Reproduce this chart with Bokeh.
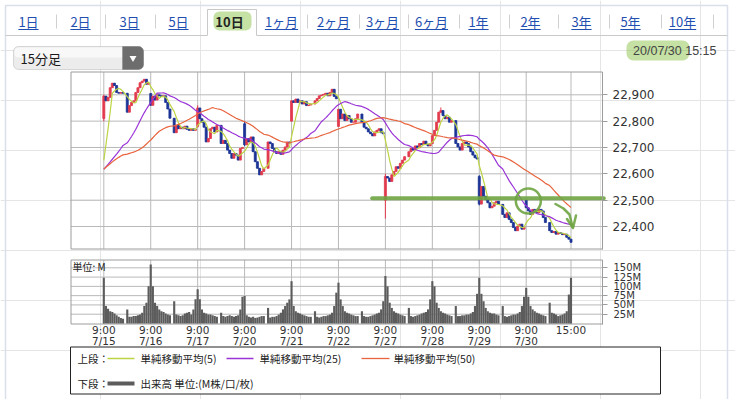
import pandas as pd
from bokeh.plotting import figure
from bokeh.models import (Range1d, LinearAxis, FixedTicker, NumeralTickFormatter,
                          PrintfTickFormatter, BoxAnnotation, ColumnDataSource)
from bokeh.core.properties import value
from bokeh.embed import file_html
from bokeh.resources import INLINE

# ------------------------------------------------------------------ data
DAYS = ["7/15", "7/16", "7/17", "7/20", "7/21", "7/22", "7/27", "7/28", "7/29", "7/30"]
OPEN_TIME = "9:00"
CLOSE_TIME = "15:00"
SLOTS_PER_DAY = 22                      # 15-minute slots on the time axis per session day
MORNING_SLOTS = list(range(0, 10))      # 9:00 .. 11:15
AFTERNOON_SLOTS = list(range(11, 22))   # 12:30 .. 15:00
CLOSE_SLOT = 21

DAY_OPEN = [22810, 22905, 22780, 22790, 22800, 22780, 22500, 22715, 22590, 22500]

CLOSE_0715 = [22895, 22877, 22890, 22927, 22944, 22935, 22909, 22906, 22909, 22906,
              22834, 22859, 22871, 22877, 22909, 22927, 22946, 22952, 22959, 22940, 22945]
CLOSE_0716 = [22860, 22895, 22880, 22900, 22896, 22894, 22896, 22871, 22846, 22811,
              22756, 22784, 22771, 22777, 22771, 22781, 22769, 22765, 22771, 22765, 22770]
CLOSE_0717 = [22850, 22809, 22796, 22777, 22721, 22734, 22771, 22777, 22759, 22784,
              22715, 22727, 22715, 22690, 22677, 22659, 22677, 22671, 22652, 22696, 22700]
CLOSE_0720 = [22710, 22734, 22721, 22740, 22684, 22646, 22621, 22596, 22609, 22621,
              22721, 22715, 22696, 22684, 22677, 22684, 22674, 22690, 22702, 22721, 22717]
CLOSE_0721 = [22877, 22871, 22884, 22871, 22877, 22865, 22874, 22859, 22861, 22865,
              22877, 22886, 22896, 22899, 22902, 22906, 22896, 22909, 22921, 22894, 22885]
CLOSE_0722 = [22845, 22809, 22827, 22802, 22821, 22809, 22796, 22796, 22809, 22827,
              22796, 22777, 22771, 22759, 22752, 22744, 22759, 22765, 22771, 22756, 22752]
CLOSE_0727 = [22590, 22584, 22571, 22596, 22609, 22627, 22621, 22640, 22652, 22665,
              22684, 22696, 22690, 22706, 22699, 22715, 22711, 22724, 22711, 22706, 22715]
CLOSE_0728 = [22745, 22765, 22796, 22834, 22840, 22821, 22809, 22815, 22796, 22802,
              22715, 22702, 22690, 22715, 22721, 22715, 22702, 22684, 22671, 22661, 22656]
CLOSE_0729 = [22485, 22552, 22515, 22502, 22490, 22471, 22477, 22490, 22496, 22484,
              22446, 22434, 22452, 22427, 22415, 22396, 22384, 22402, 22409, 22390, 22397]
CLOSE_0730 = [22471, 22459, 22446, 22465, 22459, 22452, 22465, 22459, 22434, 22415,
              22384, 22377, 22381, 22371, 22377, 22374, 22369, 22371, 22359, 22352, 22340]

# volume, millions
VOL_0715 = [123, 47, 40, 33, 31, 27, 22, 18, 15, 13, 38, 18, 18, 20, 20, 22, 24, 29, 47, 56, 100]
VOL_0716 = [159, 100, 56, 47, 38, 33, 31, 27, 24, 22, 60, 24, 22, 20, 22, 27, 29, 31, 24, 38, 65]
VOL_0717 = [92, 65, 38, 29, 27, 24, 24, 22, 20, 18, 29, 20, 18, 20, 22, 20, 18, 20, 22, 38, 72]
VOL_0720 = [74, 22, 18, 16, 18, 15, 16, 18, 20, 20, 42, 16, 18, 18, 20, 24, 29, 38, 47, 56, 65]
VOL_0721 = [114, 47, 33, 29, 27, 24, 22, 20, 18, 18, 33, 18, 16, 18, 20, 20, 22, 24, 29, 47, 83]
VOL_0722 = [110, 65, 47, 33, 29, 27, 24, 22, 20, 20, 33, 20, 18, 18, 20, 22, 24, 27, 29, 38, 60]
VOL_0727 = [128, 100, 56, 42, 33, 29, 27, 24, 22, 20, 42, 20, 18, 20, 22, 24, 27, 29, 31, 38, 65]
VOL_0728 = [114, 100, 56, 42, 33, 29, 27, 24, 22, 20, 47, 20, 20, 22, 22, 24, 24, 27, 31, 47, 80]
VOL_0729 = [123, 80, 60, 42, 33, 29, 27, 27, 24, 22, 47, 20, 18, 20, 22, 24, 24, 27, 31, 47, 72]
VOL_0730 = [96, 72, 47, 38, 33, 29, 27, 24, 22, 20, 56, 29, 27, 24, 20, 22, 24, 27, 33, 78, 123]

# visible wicks (day index, bar index) -> (high, low)
WICKS = {(0, 0): (22900, 22800), (2, 0): (22860, 22775), (3, 0): (22800, 22705),
         (6, 0): (22600, 22430), (7, 4): (22852, 22830), (8, 0): (22595, 22480)}

# 15-minute closes before 7/15 9:00 (off-chart, only seed the moving averages)
PRIOR_CLOSES = [22540, 22560, 22580, 22600, 22620, 22630, 22640, 22660, 22680, 22700,
                22720, 22740, 22760, 22750, 22740, 22720, 22680, 22630, 22580, 22540,
                22500, 22460, 22450, 22480, 22520,
                22640, 22660, 22680, 22700, 22690, 22670, 22650, 22630, 22610, 22590,
                22570, 22560, 22550, 22540, 22530, 22540, 22560, 22580, 22600, 22620,
                22580, 22590, 22600, 22590]

MA_PERIODS = [5, 25, 50]
PRICE_TICKS = [22400, 22500, 22600, 22700, 22800, 22900]
VOL_TICKS = [25, 50, 75, 100, 125, 150]

TABS = ["1日", "2日", "3日", "5日", "10日", "1ヶ月", "2ヶ月", "3ヶ月", "6ヶ月",
        "1年", "2年", "3年", "5年", "10年"]
SELECTED_TAB = "10日"
BAR_TYPE = "15分足"
STAMP_DATE = "20/07/30"
STAMP_TIME = "15:15"
VOL_UNIT = "単位: M"
LEGEND_UPPER = "上段："
LEGEND_LOWER = "下段："
MA_LABELS = ["単純移動平均(5)", "単純移動平均(25)", "単純移動平均(50)"]
VOL_LABEL = "出来高 単位:(M株/口/枚)"

SUPPORT_LEVEL = 22507        # hand-drawn green line
CIRCLE_PRICE = 22497

# ------------------------------------------------------------------ style / layout
UP, DOWN = "#e23b4e", "#1c3596"
MA_COLORS = ["#bcd444", "#9a34d6", "#e8643e"]
VOL_COLOR = "#5c5c5c"
GRID = "#b9b9b9"
FRAME = "#9c9c9c"
INK = "#333333"
LINK = "#1f4fb0"
MARK = "#6fa443"
HILITE = "#8bc34a"
JP = "Noto Sans CJK JP"
NUM = "DejaVu Sans"

W, H = 735, 399
PRICE_BOX = (70.5, 602.0, 71.5, 248.5)     # left, right, top, bottom (px)
VOL_BOX = (70.5, 602.0, 259.5, 323.5)
SLOT_CAL = (0, 103.3, 198, 525.7)          # value, px, value, px
PRICE_CAL = (22900, 94.3, 22400, 226.0)
VOL_CAL = (0, 323.0, 150, 267.3)
TAB_CENTERS = [28, 80, 129, 178, 229, 281, 333, 382, 431, 478, 530, 581, 630, 682]
TAB_SEPARATORS = [56, 105, 155, 307, 359, 408, 459, 509, 558, 609, 661, 713]
SEL_TAB_BOX = (207, 256, 9, 35)
PANEL = (5, 727, 5, 35)                    # left, right, top, tab-row bottom


def at(cal, px):
    v1, p1, v2, p2 = cal
    return v1 + (px - p1) * (v2 - v1) / (p2 - p1)


# ------------------------------------------------------------------ bars
day_closes = [CLOSE_0715, CLOSE_0716, CLOSE_0717, CLOSE_0720, CLOSE_0721,
              CLOSE_0722, CLOSE_0727, CLOSE_0728, CLOSE_0729, CLOSE_0730]
day_vols = [VOL_0715, VOL_0716, VOL_0717, VOL_0720, VOL_0721,
            VOL_0722, VOL_0727, VOL_0728, VOL_0729, VOL_0730]
bar_slots = MORNING_SLOTS + AFTERNOON_SLOTS

X, O, C, HI, LO, V = [], [], [], [], [], []
for d in range(len(DAYS)):
    prev = DAY_OPEN[d]
    for b, s in enumerate(bar_slots):
        close = day_closes[d][b]
        hi, lo = WICKS.get((d, b), (max(prev, close), min(prev, close)))
        X.append(d * SLOTS_PER_DAY + s)
        O.append(prev)
        C.append(close)
        HI.append(hi)
        LO.append(lo)
        V.append(day_vols[d][b])
        prev = close

series = pd.Series(PRIOR_CLOSES + C, dtype=float)
MAS = [series.rolling(n).mean().iloc[len(PRIOR_CLOSES):].tolist() for n in MA_PERIODS]

src = ColumnDataSource(dict(
    x=X, top=[max(o, c) for o, c in zip(O, C)], bottom=[min(o, c) for o, c in zip(O, C)],
    hi=HI, lo=LO, vol=V, color=[UP if c >= o else DOWN for o, c in zip(O, C)],
    ma0=MAS[0], ma1=MAS[1], ma2=MAS[2]))

TIME_TICKS = [d * SLOTS_PER_DAY for d in range(len(DAYS))] + [(len(DAYS) - 1) * SLOTS_PER_DAY + CLOSE_SLOT]
TIME_LABELS = [OPEN_TIME] * len(DAYS) + [CLOSE_TIME]
DATE_LABELS = DAYS + [""]

# ------------------------------------------------------------------ figure
p = figure(width=W, height=H, output_backend="svg", toolbar_location=None, tools="",
           x_range=Range1d(0, W), y_range=Range1d(H, 0),
           x_axis_location=None, y_axis_location=None,
           min_border=0, min_border_left=0, min_border_right=0,
           min_border_top=0, min_border_bottom=0,
           outline_line_color=None, background_fill_color="white",
           border_fill_color="white")

p.extra_x_ranges = {"slot": Range1d(at(SLOT_CAL, 0), at(SLOT_CAL, W))}
p.extra_y_ranges = {"price": Range1d(at(PRICE_CAL, H), at(PRICE_CAL, 0)),
                    "vol": Range1d(at(VOL_CAL, H), at(VOL_CAL, 0))}

sl, sr = at(SLOT_CAL, PRICE_BOX[0]), at(SLOT_CAL, PRICE_BOX[1])
pt, pb = at(PRICE_CAL, PRICE_BOX[2]), at(PRICE_CAL, PRICE_BOX[3])
vt, vb = at(VOL_CAL, VOL_BOX[2]), at(VOL_CAL, VOL_BOX[3])
PR = dict(x_range_name="slot", y_range_name="price")
VR = dict(x_range_name="slot", y_range_name="vol")

# ---- page chrome: panel and tabs
L, R, T, TB = PANEL
p.multi_line(xs=[[L, L, R, R]], ys=[[H, T, T, H]], line_color="#dadfe9", line_width=1.5)
p.segment(x0=[L, SEL_TAB_BOX[1]], x1=[SEL_TAB_BOX[0], R], y0=[TB, TB], y1=[TB, TB],
          line_color="#c9c9c9", line_width=1)
p.multi_line(xs=[[SEL_TAB_BOX[0], SEL_TAB_BOX[0], SEL_TAB_BOX[1], SEL_TAB_BOX[1]]],
             ys=[[SEL_TAB_BOX[3], SEL_TAB_BOX[2], SEL_TAB_BOX[2], SEL_TAB_BOX[3]]],
             line_color="#c9c9c9", line_width=1)
p.segment(x0=TAB_SEPARATORS, x1=TAB_SEPARATORS, y0=[14] * len(TAB_SEPARATORS),
          y1=[28] * len(TAB_SEPARATORS), line_color="#d0d0d0", line_width=1)

p.add_layout(BoxAnnotation(left=213, right=251, top=11, bottom=30, fill_color=HILITE,
                           fill_alpha=0.5, line_color=None, border_radius=6, level="underlay"))

link_tabs = [t for t in TABS if t != SELECTED_TAB]
link_x = [x for t, x in zip(TABS, TAB_CENTERS) if t != SELECTED_TAB]
sel_x = [x for t, x in zip(TABS, TAB_CENTERS) if t == SELECTED_TAB]
p.text(x=link_x, y=[21] * len(link_tabs), text=link_tabs, text_align="center",
       text_baseline="middle", text_font=value(JP), text_font_size=value("13px"),
       text_color=LINK)
p.text(x=sel_x, y=[21], text=[SELECTED_TAB], text_align="center", text_baseline="middle",
       text_font=value(JP), text_font_size=value("13px"), text_color="#222222",
       text_font_style="bold")


def text_w(s):
    return sum(7.2 if ch.isdigit() else 13.0 for ch in s)


p.segment(x0=[x - text_w(t) / 2 for t, x in zip(link_tabs, link_x)],
          x1=[x + text_w(t) / 2 for t, x in zip(link_tabs, link_x)],
          y0=[29] * len(link_tabs), y1=[29] * len(link_tabs), line_color=LINK, line_width=1)

# ---- drop-down and time stamp
p.add_layout(BoxAnnotation(left=13, right=143, top=46, bottom=69, fill_color="#ececec",
                           fill_alpha=1, line_color="#8a8a8a", line_width=1,
                           border_radius=5, level="underlay"))
p.add_layout(BoxAnnotation(left=14, right=142, top=47, bottom=57, fill_color="#f8f8f8",
                           fill_alpha=1, line_color=None, border_radius=4, level="underlay"))
p.add_layout(BoxAnnotation(left=122, right=143, top=46, bottom=69, fill_color="#6d6d6d",
                           fill_alpha=1, line_color="#6d6d6d", border_radius=(0, 5, 5, 0),
                           level="underlay"))
p.scatter(x=[132.5], y=[57.5], marker="inverted_triangle", size=7, fill_color="white",
          line_color=None)
p.text(x=[20], y=[58], text=[BAR_TYPE], text_baseline="middle", text_font=value(JP),
       text_font_size=value("13px"), text_color="#1a1a1a")

p.add_layout(BoxAnnotation(left=626, right=689, top=40, bottom=60, fill_color=HILITE,
                           fill_alpha=0.5, line_color=None, border_radius=7, level="underlay"))
p.text(x=[716], y=[50], text=[f"{STAMP_DATE} {STAMP_TIME}"], text_align="right",
       text_baseline="middle", text_font=value("Liberation Sans"),
       text_font_size=value("12.5px"), text_color="#444444")

# ---- grids and frames
p.segment(x0=[sl] * len(PRICE_TICKS), x1=[sr] * len(PRICE_TICKS), y0=PRICE_TICKS,
          y1=PRICE_TICKS, line_color=GRID, line_width=1, **PR)
p.segment(x0=TIME_TICKS, x1=TIME_TICKS, y0=[pb] * len(TIME_TICKS), y1=[pt] * len(TIME_TICKS),
          line_color=GRID, line_width=1, **PR)
p.quad(left=[sl], right=[sr], top=[pt], bottom=[pb], fill_color=None, line_color=FRAME, **PR)

p.segment(x0=[sl] * len(VOL_TICKS), x1=[sr] * len(VOL_TICKS), y0=VOL_TICKS, y1=VOL_TICKS,
          line_color=GRID, line_width=1, **VR)
p.segment(x0=TIME_TICKS, x1=TIME_TICKS, y0=[vb] * len(TIME_TICKS), y1=[vt] * len(TIME_TICKS),
          line_color=GRID, line_width=1, **VR)
p.quad(left=[sl], right=[sr], top=[vt], bottom=[vb], fill_color=None, line_color=FRAME, **VR)

# ---- candles, moving averages, volume
p.segment(x0="x", x1="x", y0="lo", y1="hi", line_color="color", line_width=1, source=src, **PR)
p.vbar(x="x", width=0.95, top="top", bottom="bottom", fill_color="color", line_color="color",
       line_width=0.8, source=src, **PR)
for i, col in enumerate(MA_COLORS):
    p.line(x="x", y=f"ma{i}", line_color=col, line_width=1.2, source=src, **PR)

p.vbar(x="x", width=1.0, top="vol", bottom=0, fill_color=VOL_COLOR, line_color=None,
       source=src, **VR)
p.text(x=[72], y=[266], text=[VOL_UNIT], text_baseline="middle", text_font=value(JP),
       text_font_size=value("10px"), text_color="#222222")

# ---- axes
ax_p = LinearAxis(y_range_name="price", fixed_location=PRICE_BOX[1], bounds=(pb, pt),
                  ticker=FixedTicker(ticks=PRICE_TICKS), formatter=NumeralTickFormatter(format="0,0"))
ax_v = LinearAxis(y_range_name="vol", fixed_location=VOL_BOX[1], bounds=(vb, vt),
                  ticker=FixedTicker(ticks=VOL_TICKS), formatter=PrintfTickFormatter(format="%dM"))
for ax, fs, so in ((ax_p, "12px", 5), (ax_v, "10px", 6)):
    ax.axis_line_color = FRAME
    ax.major_tick_line_color = FRAME
    ax.major_tick_out = 5
    ax.major_tick_in = 0
    ax.minor_tick_out = 0
    ax.minor_tick_in = 0
    ax.major_label_standoff = so
    ax.major_label_text_font = NUM
    ax.major_label_text_font_size = fs
    ax.major_label_text_color = INK
    p.add_layout(ax, "right")

for labels, so in ((TIME_LABELS, 0), (DATE_LABELS, 11)):
    ax_t = LinearAxis(x_range_name="slot", fixed_location=VOL_BOX[3], bounds=(sl, sr),
                      ticker=FixedTicker(ticks=TIME_TICKS),
                      major_label_overrides=dict(zip(TIME_TICKS, labels)))
    ax_t.axis_line_color = None
    ax_t.major_tick_line_color = None
    ax_t.minor_tick_line_color = None
    ax_t.major_tick_out = 0
    ax_t.major_tick_in = 0
    ax_t.minor_tick_out = 0
    ax_t.minor_tick_in = 0
    ax_t.major_label_standoff = so
    ax_t.major_label_text_font = NUM
    ax_t.major_label_text_font_size = "10.5px"
    ax_t.major_label_text_color = INK
    p.add_layout(ax_t, "below")

# ---- hand-drawn green marks
p.segment(x0=[6 * SLOTS_PER_DAY - 6.2], x1=[sr + 0.6], y0=[SUPPORT_LEVEL], y1=[SUPPORT_LEVEL],
          line_color=MARK, line_width=4, line_alpha=0.9, line_cap="round", **PR)
p.scatter(x=[9 * SLOTS_PER_DAY + 1], y=[CIRCLE_PRICE], marker="circle", size=25,
          fill_color=None, line_color=MARK, line_width=2.5, line_alpha=0.9, **PR)
p.line(x=[555, 563, 569, 572], y=[203.5, 208, 214, 226], line_color=MARK, line_width=2.5,
       line_alpha=0.9, line_cap="round")
p.line(x=[566.5, 572.5, 575.5], y=[218.5, 227.5, 215], line_color=MARK, line_width=2.5,
       line_alpha=0.9, line_cap="round", line_join="round")

# ---- legend box
p.quad(left=[70], right=[660], top=[346.5], bottom=[393.5], fill_color="white",
       line_color="#222222", line_width=1)
p.text(x=[77, 77], y=[358, 383], text=[LEGEND_UPPER, LEGEND_LOWER], text_baseline="middle",
       text_font=value(JP), text_font_size=value("10.5px"), text_color="#222222")
LEG_SAMPLE_X = [(107, 134), (226, 253), (361, 389)]
LEG_TEXT_X = [140, 259, 393]
p.multi_line(xs=[list(s) for s in LEG_SAMPLE_X], ys=[[358, 358]] * 3, line_color=MA_COLORS,
             line_width=1.3)
p.text(x=LEG_TEXT_X, y=[358] * 3, text=MA_LABELS, text_baseline="middle", text_font=value(JP),
       text_font_size=value("10.5px"), text_color="#222222")
p.segment(x0=[107], x1=[134], y0=[383], y1=[383], line_color=VOL_COLOR, line_width=4)
p.text(x=[140], y=[383], text=[VOL_LABEL], text_baseline="middle", text_font=value(JP),
       text_font_size=value("10.5px"), text_color="#222222")

open("out.html", "w").write(file_html(p, INLINE, title="chart"))
